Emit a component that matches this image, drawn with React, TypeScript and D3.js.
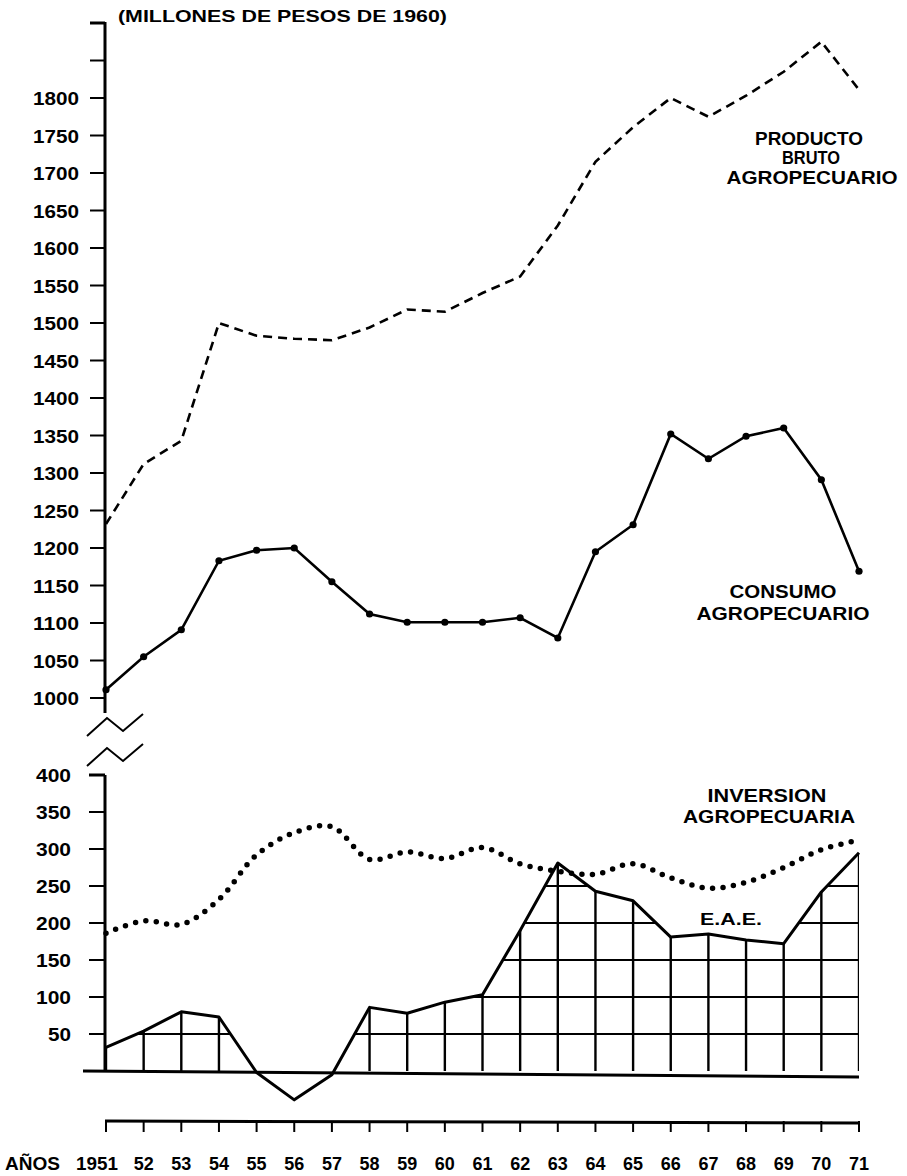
import * as d3 from "d3";

// agricultural product / consumption / investment, Argentina 1951-71 (millones de pesos de 1960)

const YEARS = d3.range(1951, 1972);
const YEAR_LABELS = YEARS.map((y) => (y === 1951 ? "1951" : String(y).slice(2)));

const PRODUCTO = [1232, 1312, 1343, 1500, 1483, 1479, 1477, 1494, 1518, 1515, 1540, 1562, 1630, 1715, 1761, 1800, 1775, 1803, 1835, 1875, 1811];
const CONSUMO = [1011, 1055, 1091, 1183, 1197, 1200, 1155, 1112, 1101, 1101, 1101, 1107, 1080, 1195, 1231, 1352, 1319, 1349, 1360, 1291, 1169];
const INVERSION = [186, 203, 198, 232, 292, 322, 330, 286, 296, 287, 302, 280, 270, 266, 280, 261, 247, 255, 275, 299, 312];
const EAE = [32, 54, 80, 73, -2, -39, -5, 86, 78, 93, 103, 190, 281, 243, 230, 181, 185, 177, 172, 242, 295];

const TOP_TICKS = d3.range(1000, 1901, 50);
const TOP_LABELS = d3.range(1000, 1801, 50);
const BOT_TICKS = d3.range(50, 401, 50);
const GRID_VALUES = d3.range(50, 400, 50);

const FONT = "'Liberation Sans', Arial, Helvetica, sans-serif";

export default function App() {
  const x = d3.scaleLinear().domain([1951, 1971]).range([106, 859]);
  const yTop = d3.scaleLinear().domain([1000, 1900]).range([698, 23]);
  const yBot = d3.scaleLinear().domain([0, 400]).range([1071, 775]);

  const axisX = 105;
  const zero = yBot(0);

  const topLine = (vals: number[]) =>
    d3.line<number>().x((_, i) => x(YEARS[i])).y((v) => yTop(v))(vals) || "";

  const invPath =
    d3.line<number>().curve(d3.curveCatmullRom.alpha(0.5)).x((_, i) => x(YEARS[i])).y((v) => yBot(v))(INVERSION) || "";
  const eaePath = d3.line<number>().x((_, i) => x(YEARS[i])).y((v) => yBot(v))(EAE) || "";
  const eaeArea =
    d3.area<number>().x((_, i) => x(YEARS[i])).y0(zero).y1((v) => yBot(v))(EAE) || "";

  // axis break zigzags
  const zig = (y0: number) =>
    `M${axisX - 18},${y0} L${axisX + 2},${y0 - 18} L${axisX + 18},${y0 - 5} L${axisX + 38},${y0 - 22}`;

  const xAxisY = 1121;

  return (
    <svg width={907} height={1176} style={{ position: "absolute", left: 0, top: 0, background: "#fff" }} fontFamily={FONT}>
      <rect width={907} height={1176} fill="#fff" />
      <defs>
        <clipPath id="above-zero">
          <rect x={0} y={0} width={907} height={zero} />
        </clipPath>
        <clipPath id="eae-area">
          <path d={eaeArea} />
        </clipPath>
      </defs>

      {/* title */}
      <text x={118} y={22} fontSize={17} fontWeight="bold" textLength={329} lengthAdjust="spacingAndGlyphs">
        (MILLONES DE PESOS DE 1960)
      </text>

      {/* upper axis */}
      <line x1={axisX} x2={axisX} y1={yTop(1900) - 1} y2={713} stroke="#000" strokeWidth={3} />
      {TOP_TICKS.map((t) => (
        <line key={t} x1={axisX - 15} x2={axisX} y1={yTop(t)} y2={yTop(t)} stroke="#000" strokeWidth={t === 1900 ? 3 : 2} />
      ))}
      {TOP_LABELS.map((t) => (
        <text key={t} x={79} y={yTop(t) + 7} textAnchor="end" fontSize={18.5} fontWeight="bold" textLength={46} lengthAdjust="spacingAndGlyphs">
          {t}
        </text>
      ))}

      {/* break marks */}
      <path d={zig(736)} fill="none" stroke="#000" strokeWidth={2} />
      <path d={zig(766)} fill="none" stroke="#000" strokeWidth={2} />

      {/* lower axis */}
      <line x1={axisX} x2={axisX} y1={yBot(400)} y2={zero} stroke="#000" strokeWidth={3} />
      {BOT_TICKS.map((t) => (
        <line key={t} x1={axisX - 16} x2={axisX} y1={yBot(t)} y2={yBot(t)} stroke="#000" strokeWidth={t === 400 ? 3 : 2} />
      ))}
      {BOT_TICKS.map((t) => (
        <text key={t} x={71} y={yBot(t) + 7} textAnchor="end" fontSize={18.5} fontWeight="bold" textLength={t >= 100 ? 35 : 23} lengthAdjust="spacingAndGlyphs">
          {t}
        </text>
      ))}

      {/* producto bruto agropecuario */}
      <path d={topLine(PRODUCTO)} fill="none" stroke="#000" strokeWidth={2.6} strokeDasharray="9 6" />

      {/* consumo agropecuario */}
      <path d={topLine(CONSUMO)} fill="none" stroke="#000" strokeWidth={2.6} />
      {CONSUMO.map((v, i) => (
        <circle key={i} cx={x(YEARS[i])} cy={yTop(v)} r={3.6} fill="#000" />
      ))}

      {/* E.A.E. hatched area */}
      <g clipPath="url(#above-zero)">
        <g clipPath="url(#eae-area)">
          {GRID_VALUES.map((g) => (
            <line key={g} x1={x(1951)} x2={x(1971)} y1={yBot(g)} y2={yBot(g)} stroke="#000" strokeWidth={2} />
          ))}
          {YEARS.map((yr) => (
            <line key={yr} x1={x(yr)} x2={x(yr)} y1={zero} y2={yBot(400)} stroke="#000" strokeWidth={2.4} />
          ))}
        </g>
      </g>
      <line x1={axisX - 22} x2={x(1971)} y1={zero} y2={zero + 6} stroke="#000" strokeWidth={3} />
      <path d={eaePath} fill="none" stroke="#000" strokeWidth={3} strokeLinejoin="round" />

      {/* inversion agropecuaria */}
      <path d={invPath} fill="none" stroke="#000" strokeWidth={5.5} strokeLinecap="round" strokeDasharray="0 10.5" />

      {/* series labels */}
      <g fontSize={18.5} fontWeight="bold" textAnchor="middle">
        <text x={809} y={145} textLength={108} lengthAdjust="spacingAndGlyphs">PRODUCTO</text>
        <text x={811} y={164} textLength={58} lengthAdjust="spacingAndGlyphs">BRUTO</text>
        <text x={812} y={184} textLength={171} lengthAdjust="spacingAndGlyphs">AGROPECUARIO</text>

        <text x={783} y={598} textLength={107} lengthAdjust="spacingAndGlyphs">CONSUMO</text>
        <text x={783} y={620} textLength={173} lengthAdjust="spacingAndGlyphs">AGROPECUARIO</text>

        <text x={767} y={802} textLength={119} lengthAdjust="spacingAndGlyphs">INVERSION</text>
        <text x={769} y={823} textLength={172} lengthAdjust="spacingAndGlyphs">AGROPECUARIA</text>

        <text x={731} y={925} fontSize={17} textLength={62} lengthAdjust="spacingAndGlyphs">E.A.E.</text>
      </g>

      {/* x axis */}
      <line x1={x(1951) - 1} x2={x(1971) + 1} y1={xAxisY} y2={xAxisY + 2} stroke="#000" strokeWidth={3} />
      {YEARS.map((yr) => (
        <line key={yr} x1={x(yr)} x2={x(yr)} y1={xAxisY} y2={xAxisY + 11} stroke="#000" strokeWidth={2} />
      ))}
      <text x={5} y={1170} fontSize={19} fontWeight="bold" textLength={55} lengthAdjust="spacingAndGlyphs">
        AÑOS
      </text>
      {YEARS.map((yr, i) => (
        <text
          key={yr}
          x={yr === 1951 ? x(yr) - 9 : x(yr)}
          y={1170}
          textAnchor="middle"
          fontSize={19}
          fontWeight="bold"
          textLength={yr === 1951 ? 42 : 20}
          lengthAdjust="spacingAndGlyphs"
        >
          {YEAR_LABELS[i]}
        </text>
      ))}
    </svg>
  );
}
